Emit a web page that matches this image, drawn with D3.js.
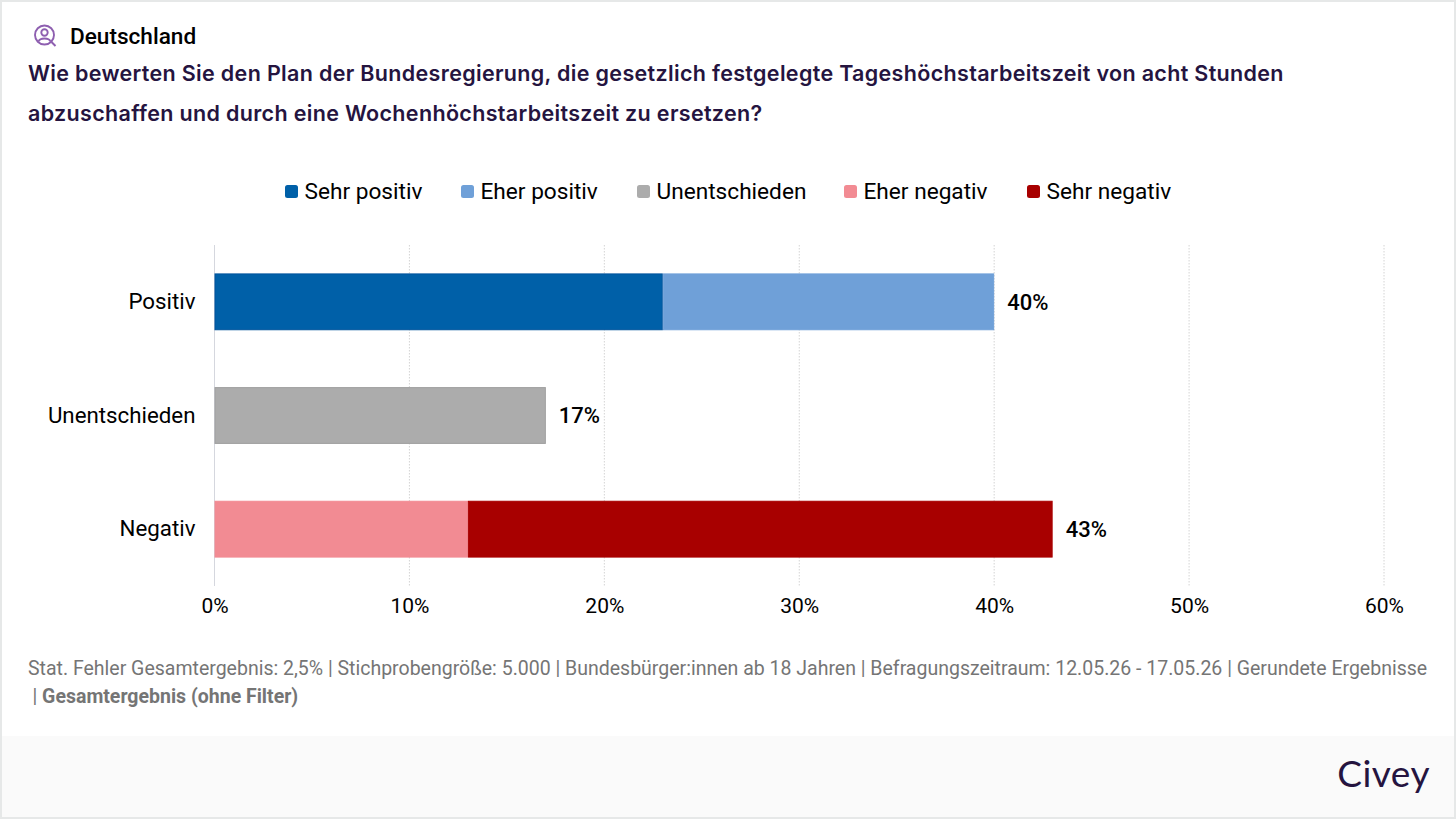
<!DOCTYPE html>
<html>
<head>
<meta charset="utf-8">
<script src="https://cdn.jsdelivr.net/npm/d3@7"></script>
<style>
  html, body { margin: 0; padding: 0; background: #fff; }
  svg { display: block; }
  text { font-family: Roboto, sans-serif; }
</style>
</head>
<body>
<svg id="chart" width="1456" height="819"></svg>
<script>
const categories = ["Positiv", "Unentschieden", "Negativ"];
const seriesNames = ["Sehr positiv", "Eher positiv", "Unentschieden", "Eher negativ", "Sehr negativ"];
const seriesColors = ["#0060a8", "#6fa0d8", "#acacac", "#f28b93", "#a80000"];
const seriesStrokes = ["#00539c", "#6fa0d8", "#a0a0a0", "#f28b93", "#a80000"];
const sehrPositiv = [23, 0, 0];
const eherPositiv = [17, 0, 0];
const unentschieden = [0, 17, 0];
const eherNegativ = [0, 0, 13];
const sehrNegativ = [0, 0, 30];
const totals = [40, 17, 43];
const xTicks = [0, 10, 20, 30, 40, 50, 60];
const titleLines = [
    "Wie bewerten Sie den Plan der Bundesregierung, die gesetzlich festgelegte Tageshöchstarbeitszeit von acht Stunden",
    "abzuschaffen und durch eine Wochenhöchstarbeitszeit zu ersetzen?"
];

const margin = {top: 245, left: 214.5, right: 72, bottom: 233};
const W = 1456, H = 819;

const svg = d3.select("#chart");

// card + footer band
svg.append("rect").attr("width", W).attr("height", H).attr("fill", "#e6e8e8");
svg.append("rect").attr("x", 2).attr("y", 2).attr("width", W - 4).attr("height", H - 4).attr("fill", "#fff");
svg.append("rect").attr("x", 2).attr("y", 736).attr("width", W - 4).attr("height", 81).attr("fill", "#fafafa");

// header
const icon = svg.append("g").attr("transform", "translate(34,24)")
    .attr("fill", "none").attr("stroke", "#8e5fb0").attr("stroke-width", 1.9);
icon.append("circle").attr("cx", 10.5).attr("cy", 11).attr("r", 9.5);
icon.append("circle").attr("cx", 10.5).attr("cy", 8.5).attr("r", 3.2);
icon.append("path").attr("d", "M4.5 17.5 C6 13.5 15 13.5 16.5 17.5");
icon.append("path").attr("d", "M17.5 18 L21.5 22");

svg.append("text").attr("x", 70).attr("y", 43.5)
    .attr("font-size", 22.6).attr("font-weight", 500).attr("fill", "#000").text("Deutschland");

svg.selectAll(".title").data(titleLines).enter().append("text")
    .attr("class", "title")
    .attr("x", 28)
    .attr("y", (d, i) => 81 + i * 40)
    .style("font-family", "Inter, sans-serif")
    .attr("font-size", 21.5).attr("font-weight", 600).attr("letter-spacing", 0.33).attr("fill", "#25143f")
    .text(d => d);

// scales
const x = d3.scaleLinear().domain([0, 60]).range([margin.left, W - margin.right]);
const y = d3.scaleBand().domain(categories).range([margin.top, H - margin.bottom])
    .paddingInner(0.5).paddingOuter(0.25);

// grid
svg.selectAll(".grid").data(xTicks.slice(1)).enter().append("line")
    .attr("class", "grid")
    .attr("x1", d => x(d)).attr("x2", d => x(d))
    .attr("y1", margin.top).attr("y2", H - margin.bottom)
    .attr("stroke", "#d4d4d4").attr("stroke-width", 1).attr("stroke-dasharray", "1.5 1.5");
svg.append("line")
    .attr("x1", x(0)).attr("x2", x(0))
    .attr("y1", margin.top).attr("y2", H - margin.bottom)
    .attr("stroke", "#d5d7de").attr("stroke-width", 1);

// stacked bars
const table = categories.map((c, i) => ({
    cat: c,
    "Sehr positiv": sehrPositiv[i],
    "Eher positiv": eherPositiv[i],
    "Unentschieden": unentschieden[i],
    "Eher negativ": eherNegativ[i],
    "Sehr negativ": sehrNegativ[i]
}));
const stacked = d3.stack().keys(seriesNames)(table);

svg.selectAll(".layer").data(stacked).enter().append("g")
    .attr("class", "layer")
    .attr("fill", (d, i) => seriesColors[i])
    .attr("stroke", (d, i) => seriesStrokes[i])
    .selectAll("rect")
    .data(d => d.filter(v => v[1] > v[0]))
    .enter().append("rect")
    .attr("x", d => x(d[0]) + 0.5)
    .attr("y", d => y(d.data.cat) + 0.5)
    .attr("width", d => x(d[1]) - x(d[0]) - 1)
    .attr("height", y.bandwidth() - 1);

// value labels
svg.selectAll(".total").data(totals).enter().append("text")
    .attr("class", "total")
    .attr("x", d => x(d) + 13)
    .attr("y", (d, i) => y(categories[i]) + y.bandwidth() / 2)
    .attr("dy", ".35em")
    .attr("font-size", 22).attr("font-weight", 500).attr("fill", "#000")
    .text(d => d + "%");

// axes
const xAxis = d3.axisBottom(x).tickValues(xTicks).tickFormat(d => d + "%").tickSize(0).tickPadding(0);
const gx = svg.append("g").attr("transform", `translate(0,${H - margin.bottom})`).call(xAxis);
gx.select(".domain").remove();
gx.selectAll("text").attr("y", 27).attr("dy", 0).style("font-family", "Roboto, sans-serif")
    .attr("font-size", 21).attr("fill", "#000");

const yAxis = d3.axisLeft(y).tickSize(0).tickPadding(19);
const gy = svg.append("g").attr("transform", `translate(${margin.left},0)`).call(yAxis);
gy.select(".domain").remove();
gy.selectAll("text").style("font-family", "Roboto, sans-serif")
    .attr("font-size", 22.3).attr("fill", "#000");

// legend
const legendX = [285, 461, 637, 844, 1027];
const legend = svg.selectAll(".legend").data(seriesNames).enter().append("g")
    .attr("class", "legend")
    .attr("transform", (d, i) => `translate(${legendX[i]},185)`);
legend.append("rect").attr("width", 13).attr("height", 13).attr("rx", 2.5)
    .attr("fill", (d, i) => seriesColors[i]);
legend.append("text").attr("x", 19.5).attr("y", 14)
    .attr("font-size", 22.65).attr("fill", "#000").text(d => d);

// footnote
svg.append("text").attr("x", 28).attr("y", 674.5)
    .attr("font-size", 19.5).attr("fill", "#757575")
    .text("Stat. Fehler Gesamtergebnis: 2,5% | Stichprobengröße: 5.000 | Bundesbürger:innen ab 18 Jahren | Befragungszeitraum: 12.05.26 - 17.05.26 | Gerundete Ergebnisse");
const foot2 = svg.append("text").attr("x", 32.5).attr("y", 702.5)
    .attr("font-size", 19.5).attr("fill", "#757575");
foot2.append("tspan").text("| ");
foot2.append("tspan").attr("font-weight", 700).text("Gesamtergebnis (ohne Filter)");

// logo
svg.append("text").attr("x", 1430).attr("y", 787).attr("text-anchor", "end")
    .style("font-family", "Lato, sans-serif")
    .attr("font-size", 37).attr("fill", "#25143f").attr("letter-spacing", 0.5).text("Civey");
</script>
</body>
</html>
